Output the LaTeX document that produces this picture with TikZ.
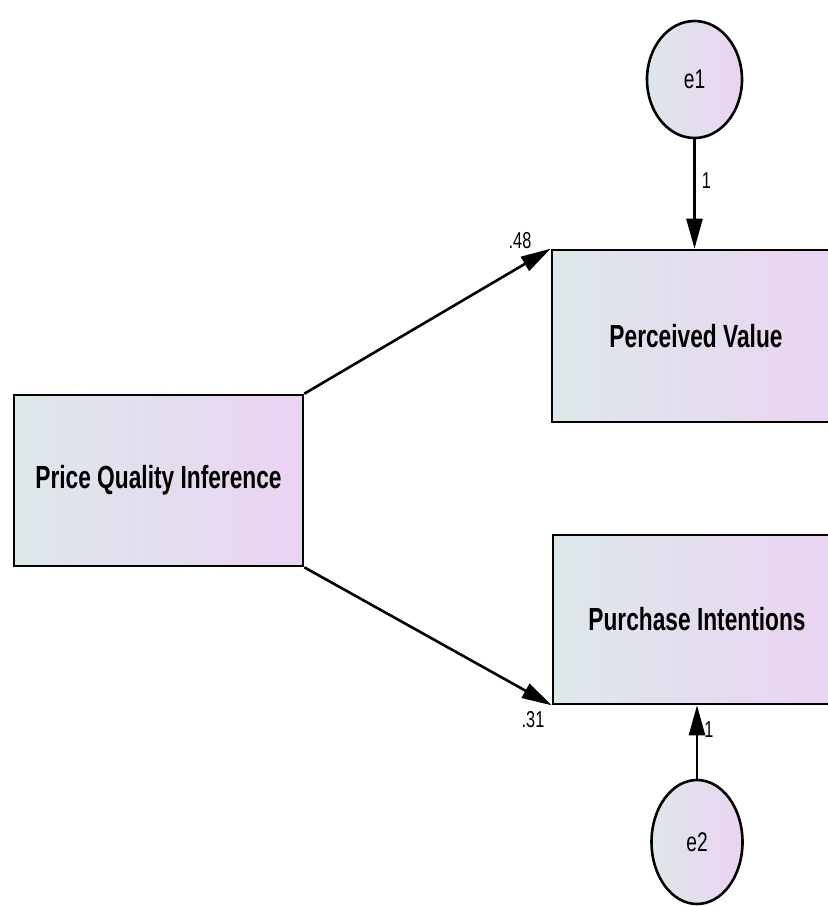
\documentclass[tikz,border=0pt]{standalone}
\usepackage{fontspec}
\setmainfont{Liberation Sans}[FakeStretch=0.71]
\usetikzlibrary{arrows.meta,shapes.geometric}
\definecolor{fillL}{HTML}{DDE8EA}
\definecolor{fillR}{HTML}{EAD3F2}
\tikzset{
  obsbox/.style={draw=black, line width=2.6pt, rectangle, left color=fillL, right color=fillR,
    font=\fontsize{32}{35}\selectfont\bfseries, inner sep=0pt},
  errell/.style={draw=black, line width=2.6pt, ellipse, left color=fillL, right color=fillR,
    font=\fontsize{27}{29}\selectfont, inner sep=0pt},
  arr/.style={line width=2.6pt, -{Triangle[length=30pt,width=16pt]}},
  lbl/.style={font=\fontsize{23}{25}\selectfont, inner sep=1pt}
}
\begin{document}
\begin{tikzpicture}[x=1pt,y=-1pt]
\useasboundingbox (0,0) rectangle (828,906);
\clip (0,0) rectangle (828,906);
\node[obsbox, minimum width=289pt, minimum height=171pt] (pqi) at (158.5,480.5) {Price Quality Inference};
\node[obsbox, minimum width=288pt, minimum height=172pt] (pv) at (696,336) {Perceived Value};
\node[obsbox, minimum width=288pt, minimum height=169pt] (pi) at (697,619.5) {Purchase Intentions};
\node[errell, minimum width=95pt, minimum height=117pt] (e1) at (694.5,79.5) {e1};
\node[errell, minimum width=91pt, minimum height=124pt] (e2) at (697,842) {e2};
\draw[arr] (pqi.north east) -- (pv.north west)
  node[at end, lbl, anchor=south east, xshift=-17pt, yshift=-2pt] {.48};
\draw[arr] (pqi.south east) -- (pi.south west)
  node[at end, lbl, anchor=north east, xshift=-5pt, yshift=-4pt] {.31};
\draw[arr] (e1) -- (e1 |- pv.north)
  node[pos=0.375, lbl, anchor=west, xshift=5pt] {1};
\draw[arr] (e2) -- (e2 |- pi.south)
  node[pos=0.67, lbl, anchor=west, xshift=5pt] {1};
\end{tikzpicture}
\end{document}
